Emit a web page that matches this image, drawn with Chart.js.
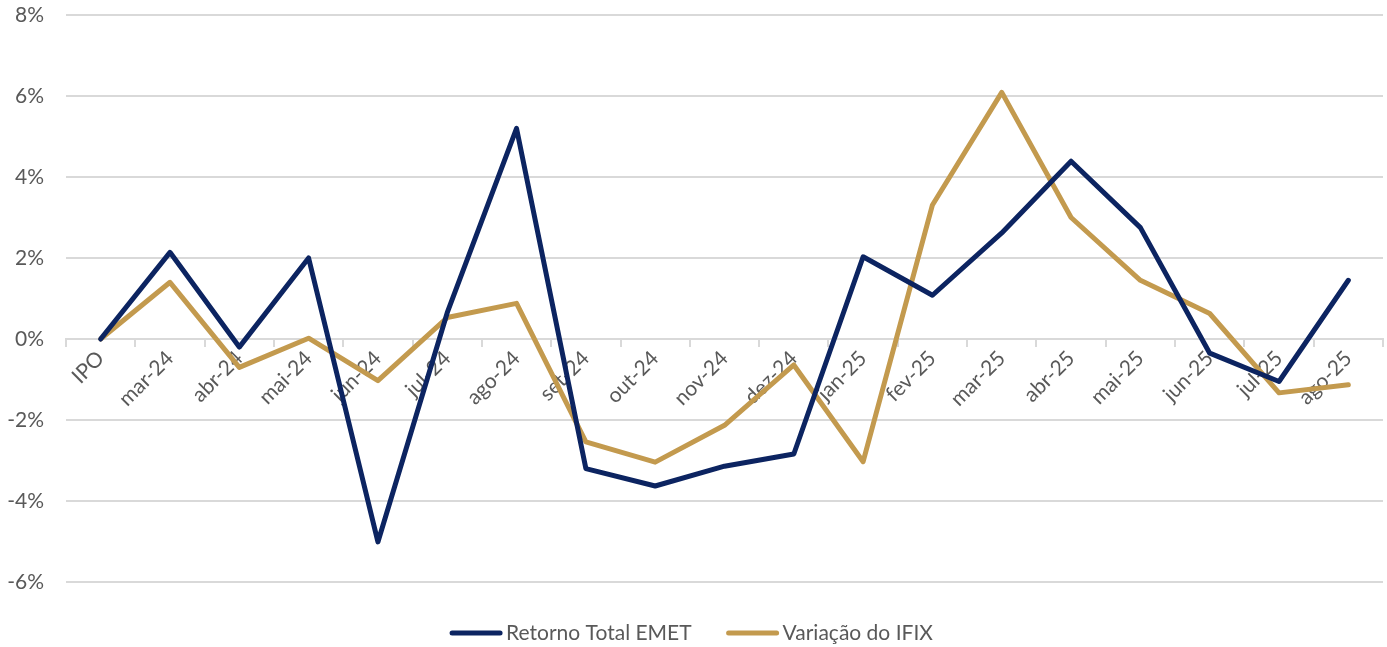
<!DOCTYPE html>
<html>
<head>
<meta charset="utf-8">
<script src="https://cdn.jsdelivr.net/npm/chart.js@4/dist/chart.umd.min.js"></script>
<style>
  html, body { margin: 0; padding: 0; background: #fff; }
  #wrap { width: 1387px; height: 647px; }
</style>
</head>
<body>
<div id="wrap"><canvas id="retornoChart" width="1387" height="647"></canvas></div>
<script>
// Monthly returns (%) since IPO
const meses = ['IPO','mar-24','abr-24','mai-24','jun-24','jul-24','ago-24','set-24','out-24','nov-24','dez-24',
  'jan-25','fev-25','mar-25','abr-25','mai-25','jun-25','jul-25','ago-25'];
const retornoEMET = [0, 2.14, -0.20, 2.00, -5.01, 0.65, 5.20, -3.20, -3.63, -3.14, -2.84,
  2.03, 1.08, 2.62, 4.39, 2.75, -0.35, -1.05, 1.45];
const variacaoIFIX = [0, 1.40, -0.70, 0.02, -1.03, 0.53, 0.88, -2.54, -3.04, -2.13, -0.64,
  -3.03, 3.31, 6.09, 3.00, 1.45, 0.63, -1.33, -1.13];
const yTicks = [8, 6, 4, 2, 0, -2, -4, -6];

const NAVY = '#0c2461';
const GOLD = '#c39a4e';
const GRID = '#d9d9d9';
const TXT = '#595959';
const FONT = 'Lato, "Liberation Sans", sans-serif';
const FONT_SIZE = 21;

// legend drawn by hand: short thick line, text right next to it
const legendLinhas = {
  id: 'legendLinhas',
  afterDraw(chart) {
    const ctx = chart.ctx;
    const ds = chart.data.datasets;
    const lineW = 52, gapText = 4, gapItem = 35, y = 633;
    ctx.save();
    ctx.font = FONT_SIZE + 'px ' + FONT;
    const widths = ds.map(d => lineW + gapText + ctx.measureText(d.label).width);
    const total = widths.reduce((a, b) => a + b, 0) + gapItem * (ds.length - 1);
    let x = chart.width / 2 - 2 - total / 2;
    ds.forEach((d, i) => {
      ctx.strokeStyle = d.borderColor;
      ctx.lineWidth = 5;
      ctx.lineCap = 'round';
      ctx.beginPath();
      ctx.moveTo(x + 2, y);
      ctx.lineTo(x + lineW - 2, y);
      ctx.stroke();
      ctx.fillStyle = TXT;
      ctx.textBaseline = 'middle';
      ctx.textAlign = 'left';
      ctx.fillText(d.label, x + lineW + gapText, y);
      x += widths[i] + gapItem;
    });
    ctx.restore();
  }
};

new Chart(document.getElementById('retornoChart'), {
  type: 'line',
  data: {
    labels: meses,
    datasets: [
      { label: 'Retorno Total EMET', data: retornoEMET, borderColor: NAVY, backgroundColor: NAVY },
      { label: 'Variação do IFIX', data: variacaoIFIX, borderColor: GOLD, backgroundColor: GOLD }
    ]
  },
  options: {
    responsive: false,
    animation: false,
    layout: { padding: { top: 15, right: 4, left: 0, bottom: 65 } },
    elements: {
      line: { borderWidth: 5, tension: 0, borderJoinStyle: 'round', borderCapStyle: 'round' },
      point: { radius: 0, hoverRadius: 0 }
    },
    scales: {
      x: {
        position: { y: 0 },
        offset: true,
        afterFit: s => { s.height = 0; s.paddingTop = 0; s.paddingBottom = 0; },
        grid: { offset: true, drawOnChartArea: false, drawTicks: true, tickLength: 7, color: GRID, lineWidth: 2 },
        border: { color: GRID, width: 2 },
        ticks: { color: TXT, font: { family: FONT, size: FONT_SIZE }, minRotation: 45, maxRotation: 45, padding: 0, autoSkip: false }
      },
      y: {
        min: -6,
        max: 8,
        afterBuildTicks: s => { s.ticks = yTicks.map(v => ({ value: v })); },
        afterFit: s => { s.width = 66; s.paddingTop = 0; s.paddingBottom = 0; },
        grid: { color: GRID, lineWidth: 2, drawTicks: false },
        border: { display: false },
        ticks: { color: TXT, font: { family: FONT, size: FONT_SIZE }, padding: 22, callback: v => v + '%' }
      }
    },
    plugins: {
      tooltip: { enabled: false },
      legend: { display: false }
    }
  },
  plugins: [legendLinhas]
});
</script>
</body>
</html>
